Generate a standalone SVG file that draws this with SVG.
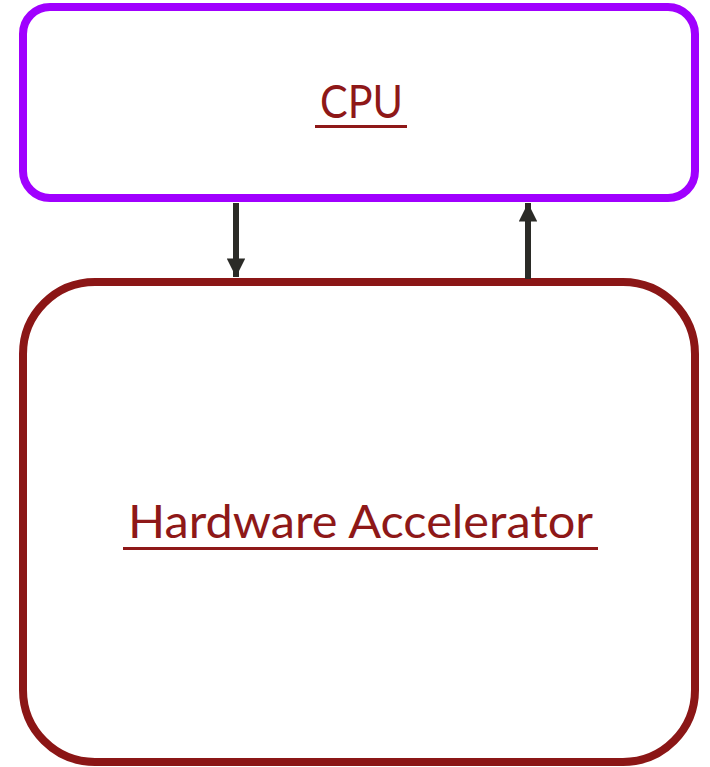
<svg xmlns="http://www.w3.org/2000/svg" width="710" height="767" viewBox="0 0 710 767">
  <style>
    .label { font-family: Lato, "Liberation Sans", sans-serif; fill: #8E1818; text-anchor: middle; }
    .uline { fill: #8E1818; }
    .wire { stroke: #2B2B27; stroke-width: 6; fill: none; }
  </style>
  <defs>
    <marker id="head" viewBox="0 0 10 10" refX="10" refY="5" markerWidth="3.1" markerHeight="3.1" markerUnits="strokeWidth" orient="auto">
      <path d="M0,0 L10,5 L0,10 Z" fill="#2B2B27"/>
    </marker>
  </defs>
  <rect width="710" height="767" fill="#FFFFFF"/>

  <g id="cpu">
    <rect x="23" y="7" width="672" height="191" rx="27" ry="27" fill="#FFFFFF" stroke="#A000FF" stroke-width="8"/>
    <text class="label" x="361.5" y="118" font-size="46" textLength="83" lengthAdjust="spacingAndGlyphs">CPU</text>
    <rect class="uline" x="315" y="125" width="92" height="3"/>
  </g>

  <g id="accelerator">
    <rect x="23" y="282" width="672" height="480" rx="72" ry="72" fill="#FFFFFF" stroke="#8B1616" stroke-width="8"/>
    <text class="label" x="360.5" y="538" font-size="46" textLength="465" lengthAdjust="spacingAndGlyphs">Hardware Accelerator</text>
    <rect class="uline" x="123" y="547" width="475" height="3"/>
  </g>

  <g id="connectors">
    <line class="wire" x1="236" y1="203" x2="236" y2="277" marker-end="url(#head)"/>
    <line class="wire" x1="528" y1="279" x2="528" y2="203" marker-end="url(#head)"/>
  </g>
</svg>
